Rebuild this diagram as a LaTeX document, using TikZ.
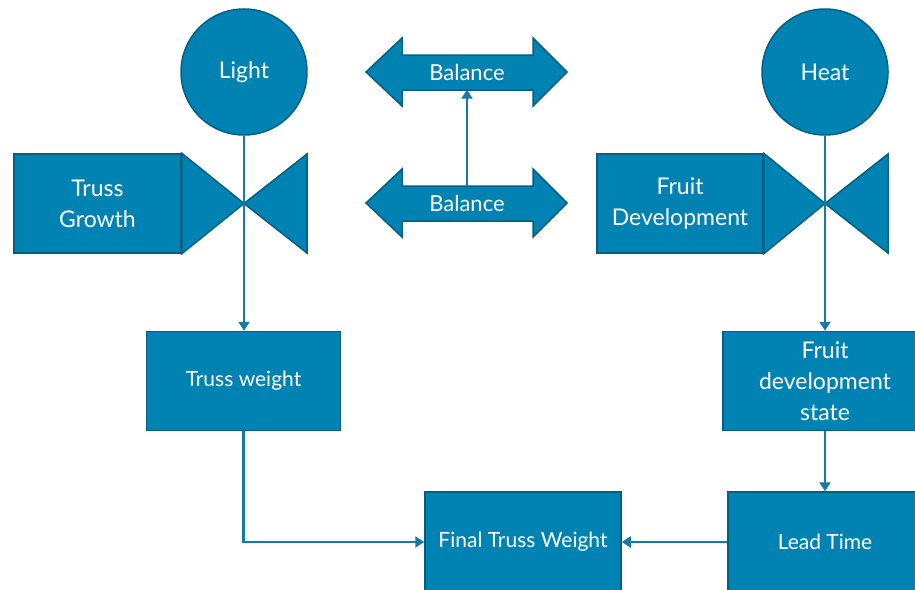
\documentclass[tikz,border=0pt]{standalone}
\usepackage{fontspec}
\setmainfont{Lato}
\usetikzlibrary{arrows.meta}
\definecolor{boxfill}{RGB}{0,131,178}
\definecolor{boxedge}{RGB}{0,96,132}
\definecolor{conn}{RGB}{22,122,166}
\tikzset{
  box/.style={draw=boxedge, line width=1.5pt, fill=boxfill, text=white, align=center, inner sep=0pt, font=\fontsize{23}{31}\selectfont},
  smallbox/.style={box, font=\fontsize{21}{26}\selectfont},
  shp/.style={draw=boxedge, line width=1.5pt, fill=boxfill, line join=miter},
  conn/.style={draw=conn, line width=2.8pt},
  arr/.style={conn, -{Triangle[length=9pt,width=11pt]}},
  lbl/.style={text=white, inner sep=0pt, minimum height=35, minimum width=131, font=\fontsize{22}{26}\selectfont}
}
\begin{document}
\begin{tikzpicture}[x=1pt,y=-1pt]
\useasboundingbox (0,0) rectangle (915,589);
% Balance arrows
\path[shp] (366,72) -- (402,38) -- (402,55) -- (533,55) -- (533,38) -- (567,72) -- (533,106) -- (533,90) -- (402,90) -- (402,106) -- cycle;
\path[shp] (366,203) -- (402,169) -- (402,186) -- (533,186) -- (533,169) -- (567,203) -- (533,237) -- (533,221) -- (402,221) -- (402,237) -- cycle;
\node[lbl] (bal1) at (467,72) {Balance};
\node[lbl] (bal2) at (467,203.5) {Balance};
% circles
\node[box, circle, minimum size=126] (light) at (244,72) {\raisebox{-2pt}{Light}};
\node[box, circle, minimum size=126] (heat) at (825,72) {Heat};
% flow boxes with valves
\node[box, minimum width=167, minimum height=99] (tg) at (97.5,203.5) {Truss\\Growth};
\coordinate (ap1) at (244,203.5);
\path[shp] (tg.north east) -- (ap1) -- (tg.south east) -- cycle;
\path[shp] (ap1) -- (307,154) -- (307,253) -- cycle;
\node[box, minimum width=166, minimum height=99] (fd) at (680,203.5) {Fruit\\Development};
\coordinate (ap2) at (825,203.5);
\path[shp] (fd.north east) -- (ap2) -- (fd.south east) -- cycle;
\path[shp] (ap2) -- (888,154) -- (888,253) -- cycle;
% stocks
\node[smallbox, minimum width=194, minimum height=99] (tw) at (243.5,381) {Truss weight};
\node[box, minimum width=204, minimum height=99] (fds) at (825,381) {Fruit\\development\\state};
\node[smallbox, minimum width=196, minimum height=100] (ftw) at (523,542) {Final Truss Weight};
\node[smallbox, minimum width=194, minimum height=100] (lt) at (825,542) {Lead Time};
% connectors
\draw[arr] (bal2.north) -- (bal1.south);
\draw[arr] (light.south) -- (light.south |- tw.north);
\draw[arr] (heat.south) -- (fds.north);
\draw[arr] (tw.south) |- (ftw.west);
\draw[arr] (fds.south) -- (lt.north);
\draw[arr] (lt.west) -- (ftw.east);
\end{tikzpicture}
\end{document}
